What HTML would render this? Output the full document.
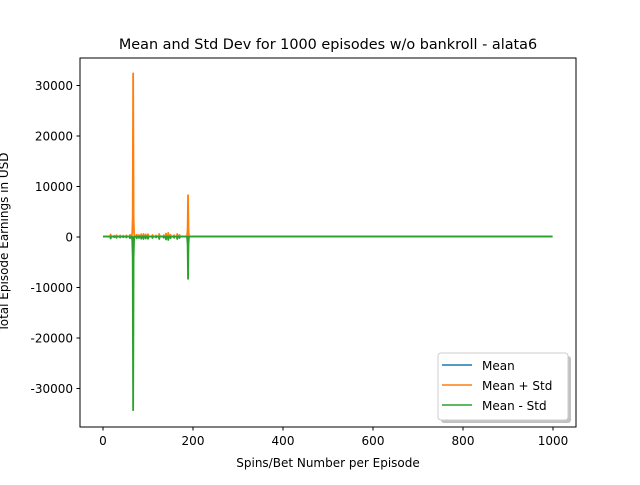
<!DOCTYPE html>
<html><head><meta charset="utf-8"><style>
body{margin:0;background:#fff;}
svg text{font-family:"DejaVu Sans","Liberation Sans",sans-serif;}
</style></head><body>
<svg width="640" height="480" viewBox="0 0 640 480">
<rect width="640" height="480" fill="#fff"/>
<text x="328" y="49" font-size="14.4" text-anchor="middle">Mean and Std Dev for 1000 episodes w/o bankroll - alata6</text>
<g id="plot"></g>
<g id="axes"></g>
<rect x="80" y="58" width="496" height="369" fill="none" stroke="#000" stroke-width="1"/>
<text x="328" y="467" font-size="12" text-anchor="middle">Spins/Bet Number per Episode</text>
<text transform="translate(8,242) rotate(-90)" font-size="12" text-anchor="middle">Total Episode Earnings in USD</text>
<g>
<rect x="441" y="356" width="130" height="67" rx="3" fill="#999" opacity="0.6"/>
<rect x="438" y="353" width="130" height="67" rx="3" fill="#fff" stroke="#ccc"/>
<line x1="442" y1="365" x2="472" y2="365" stroke="#1f77b4" stroke-width="1.5"/>
<text x="482" y="370" font-size="12">Mean</text>
<line x1="442" y1="385" x2="472" y2="385" stroke="#ff7f0e" stroke-width="1.5"/>
<text x="482" y="390" font-size="12">Mean + Std</text>
<line x1="442" y1="405" x2="472" y2="405" stroke="#2ca02c" stroke-width="1.5"/>
<text x="482" y="410" font-size="12">Mean - Std</text>
</g>
</svg>
<script>
const xTicks=[0,200,400,600,800,1000];
const yTicks=[-30000,-20000,-10000,0,10000,20000,30000];
const spikeEpisodes=[17,25,30,38,45,52,60,65,66,67,68,69,75,80,85,90,95,100,110,118,125,135,140,145,150,158,165,170,187,188,189,190];
const spikeStd=[400,150,250,200,150,200,350,800,4000,33350,4000,800,350,300,450,500,400,450,300,200,500,250,600,700,350,250,500,300,300,1500,8300,1500];
const spikeMean=[0,0,0,0,0,0,0,0,-200,-1050,-200,0,0,0,0,0,0,0,0,0,0,0,0,0,0,0,0,0,0,0,-100,0];
const baseMean=100, nEpisodes=1000;
const sx=v=>103+v*0.45, sy=v=>237-v*50.5/10000;
const NS="http://www.w3.org/2000/svg";
const axes=document.getElementById('axes'), plot=document.getElementById('plot');
xTicks.forEach(t=>{
  const l=document.createElementNS(NS,'line');l.setAttribute('x1',sx(t));l.setAttribute('x2',sx(t));l.setAttribute('y1',427);l.setAttribute('y2',430.5);l.setAttribute('stroke','#000');
  
  
  axes.appendChild(l);
  const tx=document.createElementNS(NS,'text');tx.setAttribute('x',sx(t));tx.setAttribute('y',445);tx.setAttribute('font-size','12');tx.setAttribute('text-anchor','middle');tx.textContent=t;
  
  
  axes.appendChild(tx);
});
yTicks.forEach(t=>{
  const l=document.createElementNS(NS,'line');l.setAttribute('x1',76.5);l.setAttribute('x2',80);l.setAttribute('y1',sy(t));l.setAttribute('y2',sy(t));l.setAttribute('stroke','#000');
  
  
  axes.appendChild(l);
  const tx=document.createElementNS(NS,'text');tx.setAttribute('x',73);tx.setAttribute('y',sy(t)+4.5);tx.setAttribute('font-size','12');tx.setAttribute('text-anchor','end');tx.textContent=t;
  
  
  axes.appendChild(tx);
});
const mean=[],std=[];
for(let i=0;i<nEpisodes;i++){mean.push(baseMean);std.push(0);}
spikeEpisodes.forEach((e,k)=>{std[e]=spikeStd[k];mean[e]=baseMean+spikeMean[k];});
function path(vals,color,name){
  let d='';vals.forEach((v,i)=>{d+=(i?'L':'M')+sx(i).toFixed(2)+' '+sy(v).toFixed(2);});
  const p=document.createElementNS(NS,'path');p.setAttribute('d',d);p.setAttribute('fill','none');p.setAttribute('stroke',color);p.setAttribute('stroke-width','1.8');p.setAttribute('stroke-linejoin','round');
  
  
  plot.appendChild(p);
}
path(mean,'#1f77b4','mean-line');
path(mean.map((m,i)=>m+std[i]),'#ff7f0e','mean-plus-std-line');
path(mean.map((m,i)=>m-std[i]),'#2ca02c','mean-minus-std-line');
</script>
</body></html>
